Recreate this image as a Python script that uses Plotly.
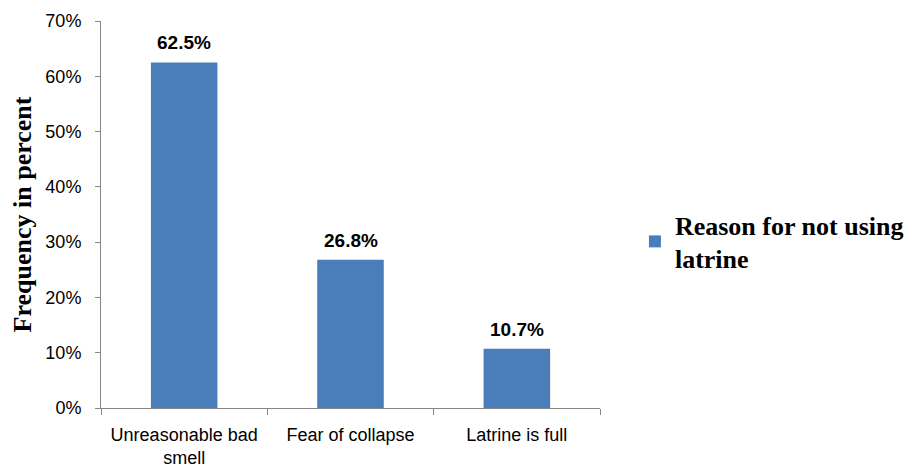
import plotly.graph_objects as go

categories = ["Unreasonable bad<br>smell", "Fear of collapse", "Latrine is full"]
values = [62.5, 26.8, 10.7]
labels = ["62.5%", "26.8%", "10.7%"]
series_name = "<b>Reason for not using<br>latrine</b>"
y_ticks = [0, 10, 20, 30, 40, 50, 60, 70]
y_tick_text = ["0%", "10%", "20%", "30%", "40%", "50%", "60%", "70%"]

bar_color = "#4A7EBB"
axis_color = "#868686"

fig = go.Figure()
fig.add_trace(go.Bar(
    x=categories, y=values, name=series_name,
    marker=dict(color=bar_color, line=dict(width=0)),
    width=0.4, showlegend=True,
))

for c, v, t in zip(categories, values, labels):
    fig.add_annotation(x=c, y=v, text="<b>" + t + "</b>", showarrow=False,
                       yanchor="bottom", yshift=7,
                       font=dict(family="Liberation Sans", size=19, color="#000000"))

fig.update_layout(
    width=910, height=472,
    margin=dict(l=101, r=310, t=21, b=64, autoexpand=False),
    paper_bgcolor="white", plot_bgcolor="white",
    showlegend=True,
    legend=dict(x=1.07, xanchor="left", y=0.43, yanchor="middle",
                font=dict(family="Liberation Serif", size=26, color="#000000"),
                itemwidth=30, bgcolor="rgba(0,0,0,0)"),
    xaxis=dict(
        showline=True, linecolor=axis_color, linewidth=1,
        ticks="outside", ticklen=6, tickcolor=axis_color, tickson="boundaries",
        tickfont=dict(family="Liberation Sans", size=18, color="#000000"),
        ticklabelstandoff=10, automargin=False,
        showgrid=False, zeroline=False,
    ),
    yaxis=dict(
        range=[0, 70], tickvals=y_ticks, ticktext=y_tick_text,
        showline=True, linecolor=axis_color, linewidth=1,
        ticks="outside", ticklen=5, tickcolor=axis_color,
        tickfont=dict(family="Liberation Sans", size=18, color="#000000"),
        ticklabelstandoff=10, automargin=False,
        showgrid=False, zeroline=False,
        title=dict(text="<b>Frequency in percent</b>",
                   font=dict(family="Liberation Serif", size=26, color="#000000"),
                   standoff=6),
    ),
)

fig.write_html("out.html")
